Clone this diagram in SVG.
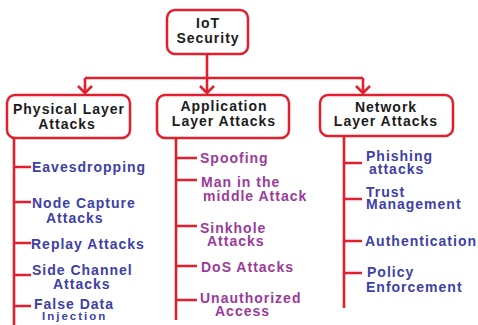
<svg xmlns="http://www.w3.org/2000/svg" width="478" height="325" viewBox="0 0 478 325">
<defs>
<style>
.box{fill:#ffffff;stroke:#e31e2d;stroke-width:2.5}
.ln{fill:none;stroke:#e31e2d;stroke-width:2.6}
text{font-family:"Liberation Sans",Arial,sans-serif;font-weight:bold;font-size:14px;letter-spacing:1px}
.hd{fill:#1c1c1c;text-anchor:middle}
.bl{fill:#3d40a8}
.pu{fill:#9b3a9c}
.sm{font-size:11.5px;letter-spacing:2px}
</style>
<marker id="arr" viewBox="-9 -9 18 18" refX="0" refY="0" markerWidth="18" markerHeight="18" markerUnits="userSpaceOnUse" orient="auto">
<path d="M-7,-7 L0,0 L-7,7" fill="none" stroke="#e31e2d" stroke-width="2.5" stroke-linejoin="round"/>
</marker>
</defs>
<rect width="478" height="325" fill="#ffffff"/>
<g id="connectors">
<path class="ln" d="M207,54 V93" marker-end="url(#arr)"/>
<path class="ln" d="M85,78 H363"/>
<path class="ln" d="M85,78 V93" marker-end="url(#arr)"/>
<path class="ln" d="M363,78 V93" marker-end="url(#arr)"/>
<path class="ln" d="M14,138 V325 M14,167 H31 M14,202 H31 M14,243 H31 M14,275 H31 M14,306 H31"/>
<path class="ln" d="M176,138 V320 M176,158 H197 M176,180 H197 M176,226 H197 M176,266 H197 M176,300 H197"/>
<path class="ln" d="M344,136 V308 M344,163 H362 M344,199 H362 M344,241 H362 M344,273 H362"/>
</g>
<g id="iot-security">
<rect class="box" x="167" y="10" width="81" height="44" rx="8"/>
<text class="hd" x="208" y="28">IoT</text>
<text class="hd" x="208" y="43">Security</text>
</g>
<g id="physical-layer">
<rect class="box" x="7" y="95" width="123" height="43" rx="8"/>
<text class="hd" x="69" y="114">Physical Layer</text>
<text class="hd" x="67" y="129">Attacks</text>
</g>
<g id="application-layer">
<rect class="box" x="157" y="95" width="132" height="43" rx="8"/>
<text class="hd" x="224" y="111">Application</text>
<text class="hd" x="224" y="126">Layer Attacks</text>
</g>
<g id="network-layer">
<rect class="box" x="320" y="95" width="133" height="41" rx="8"/>
<text class="hd" x="386" y="112">Network</text>
<text class="hd" x="386" y="126">Layer Attacks</text>
</g>
<g id="eavesdropping"><text class="bl" x="32" y="172">Eavesdropping</text></g>
<g id="node-capture"><text class="bl" x="32" y="208">Node Capture</text><text class="bl" x="46" y="223">Attacks</text></g>
<g id="replay"><text class="bl" x="31" y="249">Replay Attacks</text></g>
<g id="side-channel"><text class="bl" x="32" y="275">Side Channel</text><text class="bl" x="53" y="289">Attacks</text></g>
<g id="false-data"><text class="bl" x="34" y="309">False Data</text><text class="bl sm" x="42" y="320">Injection</text></g>
<g id="spoofing"><text class="pu" x="200" y="163">Spoofing</text></g>
<g id="mitm"><text class="pu" x="201" y="187">Man in the</text><text class="pu" x="203" y="201">middle Attack</text></g>
<g id="sinkhole"><text class="pu" x="200" y="233">Sinkhole</text><text class="pu" x="207" y="246">Attacks</text></g>
<g id="dos"><text class="pu" x="201" y="272">DoS Attacks</text></g>
<g id="unauthorized"><text class="pu" x="200" y="303">Unauthorized</text><text class="pu" x="215" y="316">Access</text></g>
<g id="phishing"><text class="bl" x="366" y="161">Phishing</text><text class="bl" x="369" y="174">attacks</text></g>
<g id="trust"><text class="bl" x="366" y="197">Trust</text><text class="bl" x="366" y="209">Management</text></g>
<g id="authentication"><text class="bl" x="365" y="246">Authentication</text></g>
<g id="policy"><text class="bl" x="367" y="277">Policy</text><text class="bl" x="366" y="292">Enforcement</text></g>
</svg>
